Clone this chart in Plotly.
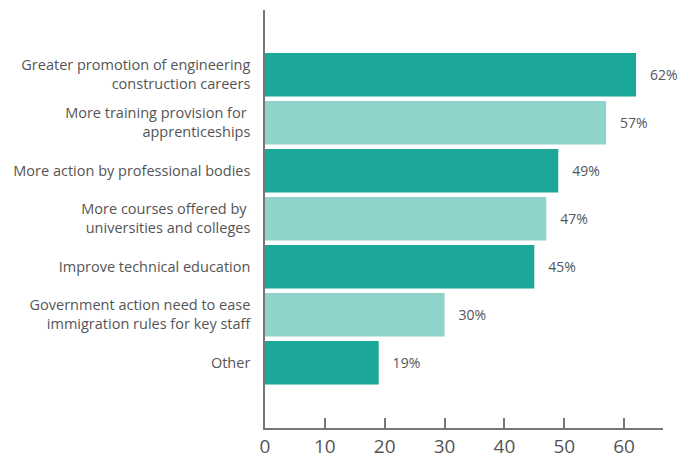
import plotly.graph_objects as go

categories = [
    "Greater promotion of engineering<br>construction careers",
    "More training provision for <br>apprenticeships",
    "More action by professional bodies",
    "More courses offered by <br>universities and colleges",
    "Improve technical education",
    "Government action need to ease<br>immigration rules for key staff",
    "Other",
]
values = [62, 57, 49, 47, 45, 30, 19]
tick_vals = [0, 10, 20, 30, 40, 50, 60]

dark = "#1ba898"
light = "#8fd3ca"
colors = [dark if i % 2 == 0 else light for i in range(len(values))]

fig = go.Figure()
fig.add_trace(go.Bar(
    x=values, y=categories, orientation="h",
    marker=dict(color=colors, line=dict(width=0)),
    width=0.91,
    texttemplate="   %{x}%", textposition="outside",
    textfont=dict(size=14, color="#555555", family="Open Sans"),
    cliponaxis=False,
))

# page body has an 8px margin, so the figure is sized to fit the window
fig.update_layout(
    width=690, height=449,
    margin=dict(l=257, r=35, t=2, b=29, autoexpand=False),
    plot_bgcolor="white", paper_bgcolor="white",
    showlegend=False,
    font=dict(family="Open Sans", color="#555555"),
)
fig.update_xaxes(
    range=[0, 66.5], tickvals=tick_vals, showgrid=False, zeroline=False,
    showline=True, linecolor="#777777", linewidth=1.5, automargin=False,
    ticks="inside", ticklen=10, tickcolor="#777777", tickwidth=1.5,
    tickfont=dict(size=19, color="#555555"), ticklabelstandoff=0,
)
fig.update_yaxes(
    autorange=False, range=[6 + 1.36, -1.35], showgrid=False, zeroline=False,
    showline=True, linecolor="#777777", linewidth=1.5, automargin=False,
    ticks="", ticklabelstandoff=10,
    tickfont=dict(size=14.5, color="#555555"),
)

fig.write_html("out.html")
